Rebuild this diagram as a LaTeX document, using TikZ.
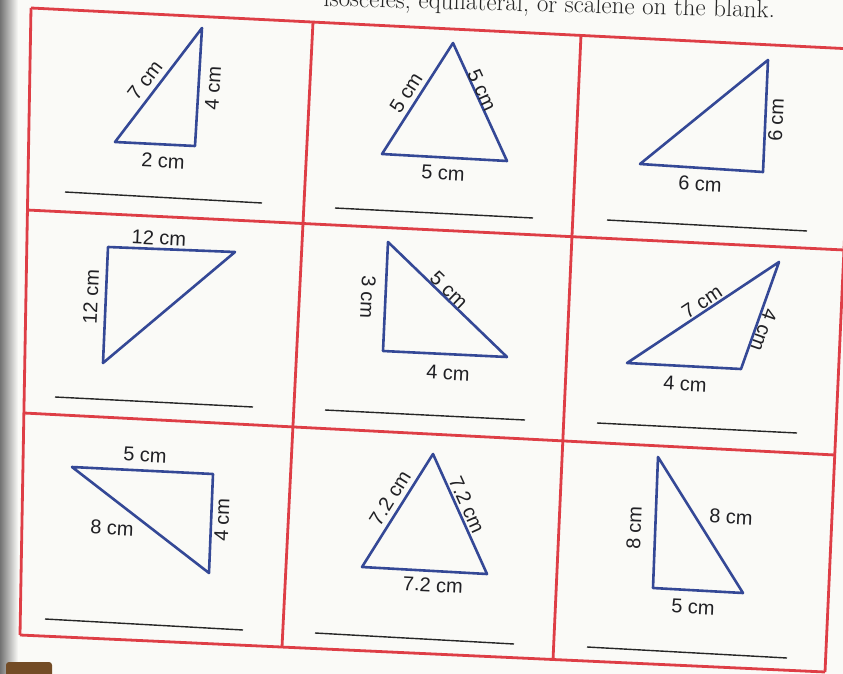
\documentclass[tikz,border=0pt]{standalone}
\usepackage{fontspec}
\newfontfamily\labelfont{Liberation Sans}
\definecolor{gridred}{RGB}{222,62,70}
\definecolor{triblue}{RGB}{52,72,150}
\definecolor{labelgray}{RGB}{32,32,36}
\definecolor{paper}{RGB}{250,250,247}

\begin{document}
\begin{tikzpicture}[
    x=1pt, y=-1pt,
    gridline/.style={draw=gridred, line width=2.8pt},
    tri/.style={draw=triblue, line width=2.6pt, line join=round},
    len/.style={font=\labelfont\fontsize{20}{24}\selectfont, text=labelgray, inner sep=0pt},
    blank/.style={draw=black!85, line width=1.4pt},
    header/.style={font=\fontsize{25}{30}\selectfont, text=black!85, inner sep=0pt}
]
\useasboundingbox (0,0) rectangle (843,674);
\clip (0,0) rectangle (843,674);
\fill[paper] (0,0) rectangle (843,674);
\shade[left color=black!55, right color=paper] (0,0) rectangle (18,674);

\node[header, rotate=-1.5, anchor=base east] (instr) at (775,18) {isosceles, equilateral, or scalene on the blank.};

% grid corners
\coordinate (g00) at (31,8);   \coordinate (g01) at (313,22);  \coordinate (g02) at (581,35);  \coordinate (g03) at (853,49);
\coordinate (g10) at (27,210); \coordinate (g11) at (303,224); \coordinate (g12) at (572,237); \coordinate (g13) at (844,250);
\coordinate (g20) at (24,413); \coordinate (g21) at (293,427); \coordinate (g22) at (563,441); \coordinate (g23) at (835,455);
\coordinate (g30) at (20,635); \coordinate (g31) at (282,647); \coordinate (g32) at (553,660); \coordinate (g33) at (825,672);

\draw[gridline] (g00) -- (g03);
\draw[gridline] (g10) -- (g13);
\draw[gridline] (g20) -- (g23);
\draw[gridline] (g30) -- (g33);
\draw[gridline] (g00) -- (g30);
\draw[gridline] (g01) -- (g31);
\draw[gridline] (g02) -- (g32);
\draw[gridline] (g03) -- (g33);

% row 1
\draw[tri] (115,142) -- (202,28) -- (195,146) -- cycle;
\node[len, rotate=52.6] (c1a) at (145,80) {7 cm};
\node[len, rotate=86.6] (c1b) at (213,88) {4 cm};
\node[len, rotate=-2.8] (c1c) at (163,161) {2 cm};
\coordinate (b1s) at (65,192); \coordinate (b1e) at (262,203);
\draw[blank] (b1s) -- (b1e);

\draw[tri] (382,154) -- (453,43) -- (507,161) -- cycle;
\node[len, rotate=57.4] (c2a) at (406,93) {5 cm};
\node[len, rotate=-65.4] (c2b) at (482,90) {5 cm};
\node[len, rotate=-2.8] (c2c) at (443,173) {5 cm};
\coordinate (b2s) at (335,208); \coordinate (b2e) at (533,218);
\draw[blank] (b2s) -- (b2e);

\draw[tri] (640,164) -- (768,60) -- (763,172) -- cycle;
\node[len, rotate=87.4] (c3a) at (776,120) {6 cm};
\node[len, rotate=-2.8] (c3b) at (700,184) {6 cm};
\coordinate (b3s) at (607,220); \coordinate (b3e) at (807,231);
\draw[blank] (b3s) -- (b3e);

% row 2
\draw[tri] (108,247) -- (235,252) -- (103,363) -- cycle;
\node[len, rotate=-2.8] (c4a) at (159,238) {12 cm};
\node[len, rotate=87.5] (c4b) at (91,297) {12 cm};
\coordinate (b4s) at (55,397); \coordinate (b4e) at (253,407);
\draw[blank] (b4s) -- (b4e);

\draw[tri] (388,242) -- (507,357) -- (383,351) -- cycle;
\node[len, rotate=-92.6] (c5a) at (368,297) {3 cm};
\node[len, rotate=-44] (c5b) at (449,290) {5 cm};
\node[len, rotate=-2.8] (c5c) at (448,373) {4 cm};
\coordinate (b5s) at (325,410); \coordinate (b5e) at (525,420);
\draw[blank] (b5s) -- (b5e);

\draw[tri] (627,363) -- (779,262) -- (741,369) -- cycle;
\node[len, rotate=33.6] (c6a) at (702,302) {7 cm};
\node[len, rotate=-109.6] (c6b) at (764,330) {4 cm};
\node[len, rotate=-2.8] (c6c) at (685,384) {4 cm};
\coordinate (b6s) at (597,423); \coordinate (b6e) at (797,433);
\draw[blank] (b6s) -- (b6e);

% row 3
\draw[tri] (72,467) -- (213,474) -- (209,573) -- cycle;
\node[len, rotate=-2.8] (c7a) at (145,455) {5 cm};
\node[len, rotate=-2.8] (c7b) at (112,528) {8 cm};
\node[len, rotate=87.7] (c7c) at (222,520) {4 cm};
\coordinate (b7s) at (45,619); \coordinate (b7e) at (243,630);
\draw[blank] (b7s) -- (b7e);

\draw[tri] (362,567) -- (433,454) -- (487,574) -- cycle;
\node[len, rotate=57.9] (c8a) at (390,498) {7.2 cm};
\node[len, rotate=-65.8] (c8b) at (467,505) {7.2 cm};
\node[len, rotate=-2.8] (c8c) at (433,585) {7.2 cm};
\coordinate (b8s) at (315,633); \coordinate (b8e) at (514,644);
\draw[blank] (b8s) -- (b8e);

\draw[tri] (658,457) -- (743,593) -- (653,588) -- cycle;
\node[len, rotate=87.8] (c9a) at (634,528) {8 cm};
\node[len, rotate=-2.8] (c9b) at (731,517) {8 cm};
\node[len, rotate=-2.8] (c9c) at (693,607) {5 cm};
\coordinate (b9s) at (587,647); \coordinate (b9e) at (787,658);
\draw[blank] (b9s) -- (b9e);

% corner tab
\fill[brown!60!black, rounded corners=3pt] (6,662) rectangle (52,690);
\end{tikzpicture}
\end{document}
